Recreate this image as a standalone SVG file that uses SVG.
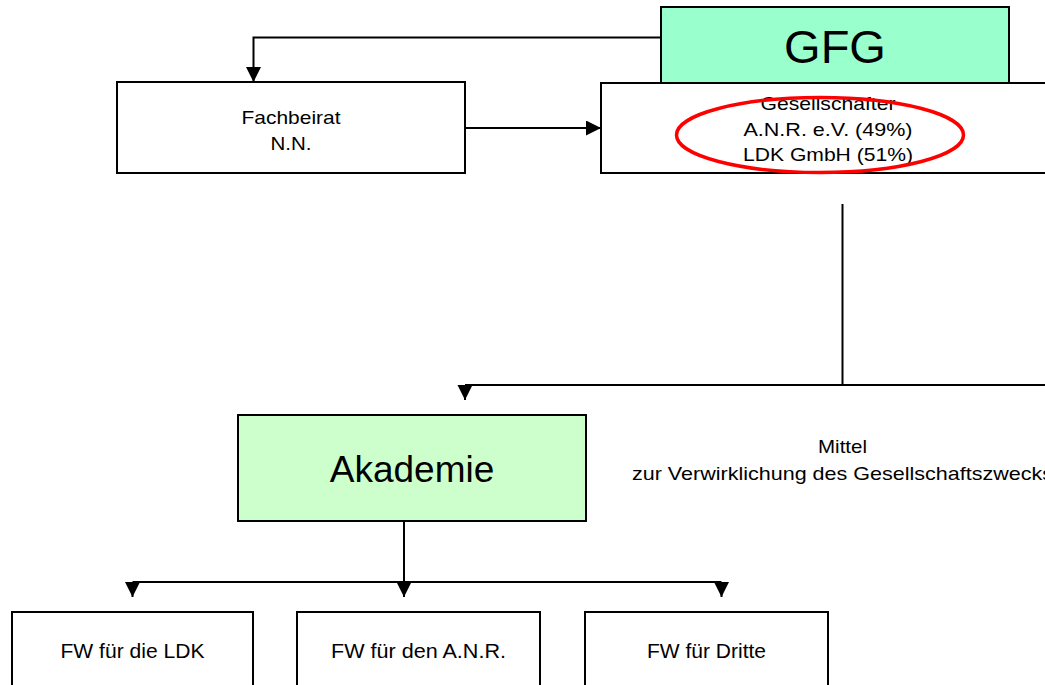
<svg xmlns="http://www.w3.org/2000/svg" width="1045" height="685" viewBox="0 0 1045 685">
  <style>
    .box { fill: #ffffff; stroke: #000000; stroke-width: 2; }
    .gfg { fill: #99ffcc; stroke: #000000; stroke-width: 2; }
    .akad { fill: #ccffcc; stroke: #000000; stroke-width: 2; }
    .t { font-family: "Liberation Sans", Arial, sans-serif; font-size: 19px; fill: #000000; text-anchor: middle; }
    .tb { font-family: "Liberation Sans", Arial, sans-serif; font-size: 21px; fill: #000000; text-anchor: middle; }
    .big { font-family: "Liberation Sans", Arial, sans-serif; fill: #000000; text-anchor: middle; }
    .conn { fill: none; stroke: #000000; stroke-width: 2; }
  </style>
  <defs>
    <marker id="arrow" markerUnits="userSpaceOnUse" markerWidth="16" markerHeight="16" refX="15" refY="7.5" orient="auto">
      <path d="M0,0 L15,7.5 L0,15 z" fill="#000000"/>
    </marker>
  </defs>
  <rect width="1045" height="685" fill="#ffffff"/>

  <g id="node-gfg">
    <rect class="gfg" x="661" y="7" width="348" height="80"/>
    <text class="big" x="835" y="63" font-size="47">GFG</text>
  </g>

  <g id="node-gesellschafter">
    <rect class="box" x="601" y="83" width="460" height="90"/>
    <text class="t" x="828" y="110" textLength="135" lengthAdjust="spacingAndGlyphs">Gesellschafter</text>
    <text class="t" x="828" y="135.5" textLength="169" lengthAdjust="spacingAndGlyphs">A.N.R. e.V. (49%)</text>
    <text class="t" x="828" y="161" textLength="170" lengthAdjust="spacingAndGlyphs">LDK GmbH (51%)</text>
  </g>

  <g id="highlight">
    <ellipse cx="820" cy="135" rx="143.5" ry="37.5" fill="none" stroke="#ff0000" stroke-width="3.5"/>
  </g>

  <g id="node-fachbeirat">
    <rect class="box" x="117" y="82" width="348" height="91"/>
    <text class="t" x="291" y="124" textLength="99" lengthAdjust="spacingAndGlyphs">Fachbeirat</text>
    <text class="t" x="291" y="150" textLength="41" lengthAdjust="spacingAndGlyphs">N.N.</text>
  </g>

  <g id="node-akademie">
    <rect class="akad" x="238" y="415" width="348" height="106"/>
    <text class="big" x="412" y="482" font-size="37">Akademie</text>
  </g>

  <g id="label-mittel">
    <text class="t" x="842.5" y="453" textLength="49" lengthAdjust="spacingAndGlyphs">Mittel</text>
    <text class="t" x="842.5" y="480" textLength="421" lengthAdjust="spacingAndGlyphs">zur Verwirklichung des Gesellschaftszwecks</text>
  </g>

  <g id="node-fw-ldk">
    <rect class="box" x="12" y="612" width="241" height="90"/>
    <text class="tb" x="132.5" y="658" textLength="144" lengthAdjust="spacingAndGlyphs">FW für die LDK</text>
  </g>
  <g id="node-fw-anr">
    <rect class="box" x="297" y="612" width="243" height="90"/>
    <text class="tb" x="418.5" y="658" textLength="175" lengthAdjust="spacingAndGlyphs">FW für den A.N.R.</text>
  </g>
  <g id="node-fw-dritte">
    <rect class="box" x="585" y="612" width="243" height="90"/>
    <text class="tb" x="706.5" y="658" textLength="119" lengthAdjust="spacingAndGlyphs">FW für Dritte</text>
  </g>

  <g id="connectors">
    <path class="conn" d="M661,37.5 H253.5 V82" marker-end="url(#arrow)"/>
    <path class="conn" d="M465,128 H601" marker-end="url(#arrow)"/>
    <path class="conn" d="M842.5,204 V385"/>
    <path class="conn" d="M465,385 H1045"/>
    <path class="conn" d="M465,385 V400" marker-end="url(#arrow)"/>
    <path class="conn" d="M404,521 V582"/>
    <path class="conn" d="M132.5,582 H721.5"/>
    <path class="conn" d="M132.5,582 V597" marker-end="url(#arrow)"/>
    <path class="conn" d="M404,582 V597" marker-end="url(#arrow)"/>
    <path class="conn" d="M721.5,582 V597" marker-end="url(#arrow)"/>
  </g>
</svg>
